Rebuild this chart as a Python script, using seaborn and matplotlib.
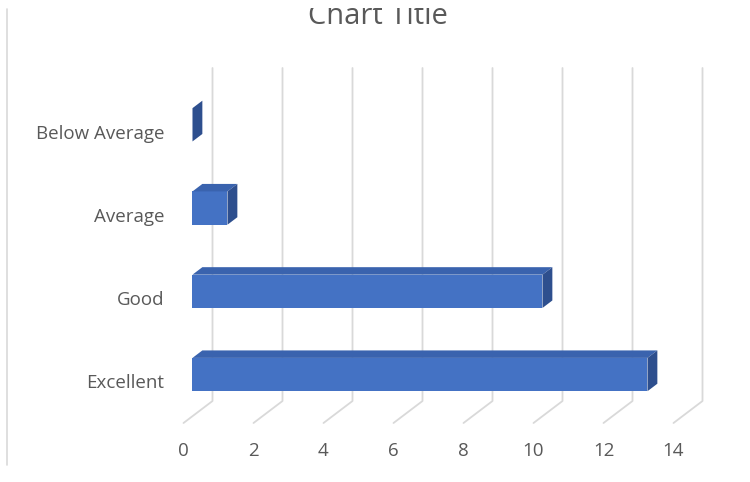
import matplotlib
matplotlib.use("Agg")
import matplotlib.pyplot as plt
from matplotlib.patches import Polygon, Rectangle
from matplotlib.lines import Line2D
import numpy as np
import seaborn as sns

sns.set_theme(style="white")
plt.rcParams['font.family'] = ['Open Sans', 'DejaVu Sans']

FRONT = '#4472C4'
TOP = '#3A63AE'
SIDE = '#2E4F8E'
GRID = '#D9D9D9'
TEXT = '#595959'

# data
categories = ['Below Average', 'Average', 'Good', 'Excellent']
values = [0, 1, 10, 13]
xticks = [0, 2, 4, 6, 8, 10, 12, 14]

# 3d look: depth of the plot box in pixels, and where the bars sit in it
DEPTH_PX = (29, 22)
F0, F1 = 0.31, 0.65

fig = plt.figure(figsize=(7.5, 4.82), dpi=100)
ax = fig.add_axes([183.5 / 750, (482 - 423) / 482, 490 / 750, 333 / 482])

sns.barplot(x=values, y=categories, orient='h', color=FRONT, saturation=1,
            width=0.4, errorbar=None, linewidth=0, edgecolor='none', ax=ax, zorder=3)
ax.set_xlim(0, 14)
ax.set_ylim(len(categories) - 0.5, -0.5)

# depth offset in data units
d0 = ax.transData.transform((0, 0))
ddx, ddy = ax.transData.inverted().transform(d0 + np.array(DEPTH_PX))

# back wall gridlines + floor diagonals
ytop, ybot = -0.5, len(categories) - 0.5
for v in xticks:
    ax.plot([v + ddx, v + ddx, v], [ytop + ddy, ybot + ddy, ybot],
            color=GRID, lw=1.3, zorder=1, clip_on=False)

# move bars into the depth and add top / side faces
d = F1 - F0
for p in ax.patches:
    p.set_x(p.get_x() + F0 * ddx)
    p.set_y(p.get_y() + F0 * ddy)
    p.set_clip_on(False)
    x0, x1 = p.get_x(), p.get_x() + p.get_width()
    yt, yb = p.get_y(), p.get_y() + p.get_height()
    top = Polygon([(x0, yt), (x1, yt), (x1 + d * ddx, yt + d * ddy), (x0 + d * ddx, yt + d * ddy)],
                  closed=True, facecolor=TOP, edgecolor='none', zorder=3, clip_on=False)
    side = Polygon([(x1, yt), (x1, yb), (x1 + d * ddx, yb + d * ddy), (x1 + d * ddx, yt + d * ddy)],
                   closed=True, facecolor=SIDE, edgecolor='none', zorder=3, clip_on=False)
    ax.add_patch(top)
    ax.add_patch(side)

ax.set_xticks(xticks)
ax.set_xticklabels([str(t) for t in xticks])
ax.tick_params(axis='both', length=0, labelsize=13.5, labelcolor=TEXT)
ax.tick_params(axis='x', pad=14)
ax.tick_params(axis='y', pad=14)
ax.set_xlabel('')
ax.set_ylabel('')
sns.despine(ax=ax, left=True, bottom=True)
ax.patch.set_alpha(0)

# title, cut at the top like the original screenshot
fig.text(378 / 750, (482 - 24) / 482, 'Chart Title', ha='center', va='baseline',
         fontsize=21, color=TEXT)
fig.add_artist(Rectangle((0, (482 - 8) / 482), 1, 8 / 482, transform=fig.transFigure,
                         facecolor='white', edgecolor='none', zorder=10))

# chart area border on the left
fig.add_artist(Line2D([7 / 750, 7 / 750], [(482 - 465) / 482, (482 - 9) / 482], color=GRID, lw=1.2))

fig.savefig('out.png', dpi=100)
